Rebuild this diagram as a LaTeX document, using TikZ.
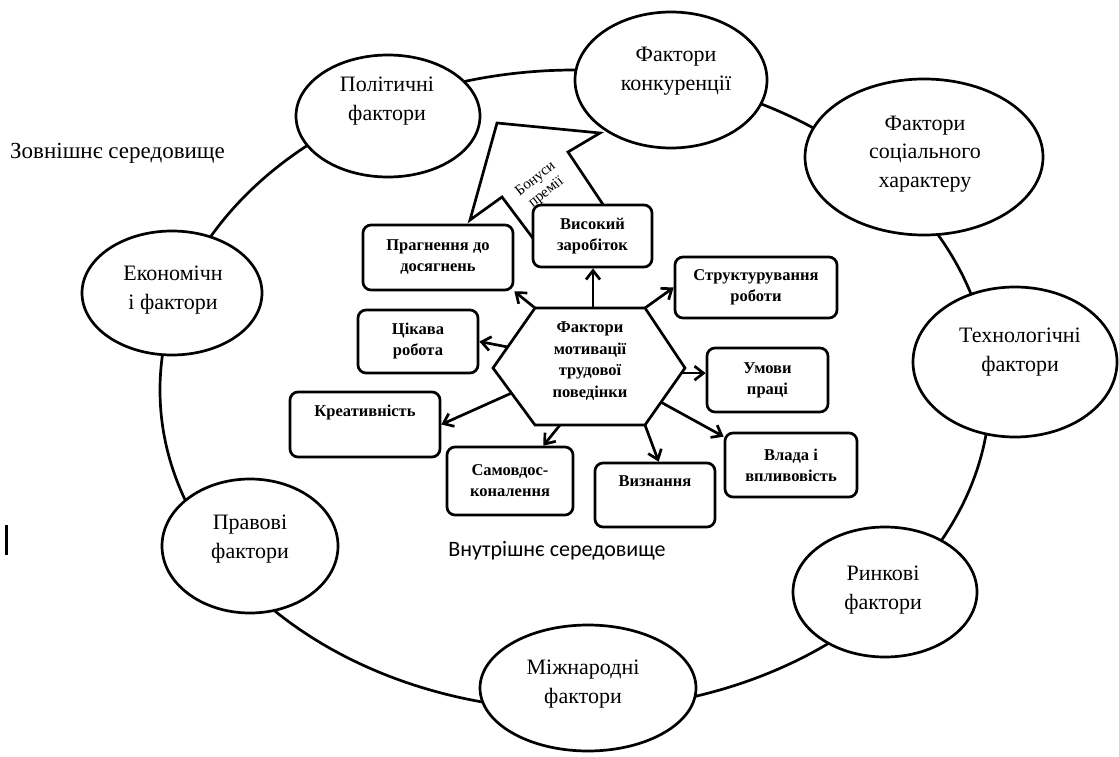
\documentclass[tikz,border=0pt]{standalone}
\usepackage{fontspec}
\setmainfont{Liberation Serif}
\newfontfamily\tnr{Liberation Serif}
\newfontfamily\carl{Carlito}
\usetikzlibrary{arrows.meta,calc,shapes.geometric}
\begin{document}
\begin{tikzpicture}[x=1pt,y=-1pt,
  lw/.style={line width=2.7pt},
  oval/.style={ellipse, draw, lw, fill=white, inner sep=0pt},
  otext/.style={font=\tnr\fontsize{22}{28.5}\selectfont, align=center, inner sep=0pt},
  box/.style={draw, lw, fill=white, rounded corners=8pt, inner sep=0pt, align=center, font=\tnr\fontsize{16.5}{21}\selectfont\bfseries},
  arr/.style={lw, -{Straight Barb[length=9pt,width=14pt,line width=2.7pt]}},
]
\fill[white] (0,0) rectangle (1119,757);
\useasboundingbox (0,0) rectangle (1119,757);

% outer environment ring
\draw[lw] (575,390) ellipse [x radius=415, y radius=320];

% outer factor ovals
\node[oval, minimum width=184pt, minimum height=122pt] (pol)  at (388,116) {};
\node[oval, minimum width=192pt, minimum height=136pt] (konk) at (671,80) {};
\node[oval, minimum width=238pt, minimum height=156pt] (soc)  at (924,157) {};
\node[oval, minimum width=204pt, minimum height=150pt] (tech) at (1015,362) {};
\node[oval, minimum width=184pt, minimum height=130pt] (rynk) at (885,592) {};
\node[oval, minimum width=216pt, minimum height=126pt] (mizh) at (588,688) {};
\node[oval, minimum width=176pt, minimum height=134pt] (prav) at (250,546) {};
\node[oval, minimum width=180pt, minimum height=124pt] (ekon) at (172,293) {};

\node[otext] (polT)  at (387,101) {Політичні\\фактори};
\node[otext] (konkT) at (676,71)  {Фактори\\конкуренції};
\node[otext] (socT)  at (925,154) {Фактори\\соціального\\характеру};
\node[otext] (techT) at (1020,352) {Технологічні\\фактори};
\node[otext] (rynkT) at (883,590) {Ринкові\\фактори};
\node[otext] (mizhT) at (583,684) {Міжнародні\\фактори};
\node[otext] (pravT) at (250,539) {Правові\\фактори};
\node[otext] (ekonT) at (173,290) {Економічн\\і фактори};

% block arrow (bonuses)
\coordinate (b1) at (470,220);
\coordinate (b2) at (497,123);
\coordinate (b3) at (600,133);
\coordinate (b4) at (568,152);
\coordinate (b5) at (602,203);
\coordinate (b6) at (620,240);
\coordinate (b7) at (545,254);
\coordinate (b8) at (532,237);
\coordinate (b9) at (502,197);
\draw[lw, fill=white, line join=miter] (b1) -- (b2) -- (b3) -- (b4) -- (b5) -- (b6) -- (b7) -- (b8) -- (b9) -- cycle;
\node[rotate=38, font=\tnr\fontsize{15}{17}\selectfont, align=center, inner sep=0pt] (bonus) at (541,186) {Бонуси\\премії};

% inner boxes
\node[box, minimum width=150pt, minimum height=65pt] (prag)   at (438,257.5) {Прагнення до\\досягнень};
\node[box, minimum width=119pt, minimum height=62pt] (high)   at (592.5,236) {Високий\\заробіток};
\node[box, minimum width=162pt, minimum height=61pt] (struct) at (756,287.5) {Структурування\\роботи};
\node[box, minimum width=120pt, minimum height=63pt] (cik)    at (418,341.5) {Цікава\\робота};
\node[box, minimum width=121pt, minimum height=64pt] (umovy)  at (767.5,380) {Умови\\праці};
\node[box, minimum width=150pt, minimum height=65pt] (kreat)  at (365,424.5) {Креативність\\\strut};
\node[box, minimum width=132pt, minimum height=64pt] (vlada)  at (791,465) {Влада і\\впливовість};
\node[box, minimum width=126pt, minimum height=68pt] (samo)   at (510,481) {Самовдос-\\коналення};
\node[box, minimum width=120pt, minimum height=64pt] (vyzn)   at (655,495) {Визнання\\\strut};

% central hexagon
\coordinate (hL)  at (493,368);
\coordinate (hTL) at (535,308);
\coordinate (hTR) at (645,308);
\coordinate (hR)  at (685,368);
\coordinate (hBR) at (645,425);
\coordinate (hBL) at (535,425);
\draw[lw, fill=white, line join=miter] (hL) -- (hTL) -- (hTR) -- (hR) -- (hBR) -- (hBL) -- cycle;
\node[align=center, inner sep=0pt, font=\tnr\fontsize{16.5}{21.5}\selectfont\bfseries] (hex) at (590,361) {Фактори\\мотивації\\трудової\\поведінки};

% arrows from hexagon
\coordinate (aCik)  at ($(hL)!0.35!(hTL)$);
\coordinate (aKr)   at ($(hL)!0.44!(hBL)$);
\coordinate (aSam)  at (560,425);
\coordinate (aHigh) at (593,308);
\coordinate (aUm)   at ($(hR)!0.09!(hBR)$);
\coordinate (aVl)   at ($(hR)!0.6!(hBR)$);
\draw[arr] (hTL) -- (prag.south east);
\draw[arr] (aHigh) -- (aHigh |- high.south);
\draw[arr] (hTR) -- (struct.west);
\draw[arr] (aCik) -- (cik.east);
\draw[arr] (aKr) -- (kreat.east);
\draw[arr] (aSam) -- ($(samo.north east)+(-31,0)$);
\draw[arr] (hBR) -- ($(vyzn.north west)+(65,0)$);
\draw[arr] (aUm) -- (aUm -| umovy.west);
\draw[arr] (aVl) -- ($(vlada.north west)+(0,5)$);

% environment labels
\node[anchor=west, inner sep=0pt, font=\tnr\fontsize{23}{26}\selectfont] (outer) at (10,153) {Зовнішнє середовище};
\node[inner sep=0pt, font=\carl\fontsize{22}{26}\selectfont] (inner) at (557,551) {Внутрішнє середовище};

% stray bar at left
\coordinate (bar1) at (6.5,525);
\coordinate (bar2) at (6.5,555);
\draw[line width=3pt] (bar1) -- (bar2);
\end{tikzpicture}
\end{document}
